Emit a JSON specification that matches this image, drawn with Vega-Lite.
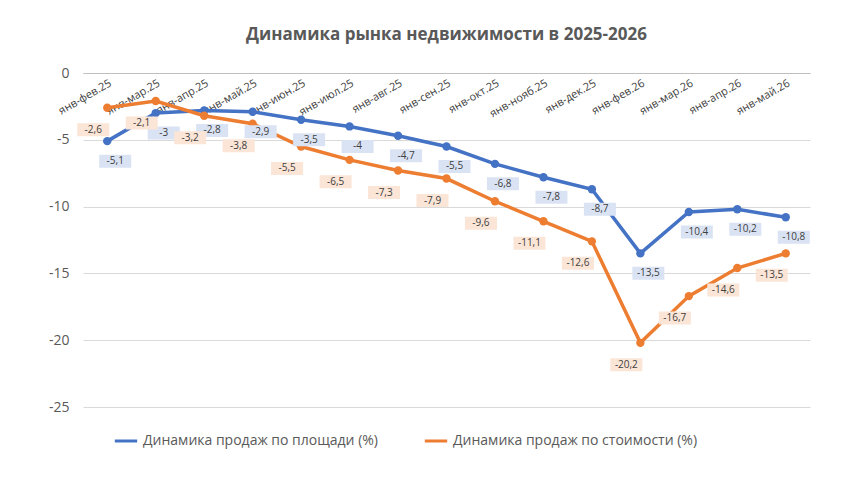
{
"$schema":"https://vega.github.io/schema/vega-lite/v6.json",
"width":727,"height":334,"autosize":"none",
"padding":{"left":83,"top":73,"right":57,"bottom":91},
"background":"white",
"title":{"text":"Динамика рынка недвижимости в 2025-2026","fontSize":17,"font":"Open Sans","fontWeight":"bold","color":"#595959","offset":22,"anchor":"middle"},
"config":{"view":{"stroke":null},"font":"Open Sans","locale":{"number":{"decimal":",","thousands":" ","grouping":[3],"currency":["",""],"minus":"-"}}},
"data":{"values":[
{"m":"янв-фев.25","s":"Динамика продаж по площади (%)","v":-5.1},
{"m":"янв-мар.25","s":"Динамика продаж по площади (%)","v":-3},
{"m":"янв-апр.25","s":"Динамика продаж по площади (%)","v":-2.8},
{"m":"янв-май.25","s":"Динамика продаж по площади (%)","v":-2.9},
{"m":"янв-июн.25","s":"Динамика продаж по площади (%)","v":-3.5},
{"m":"янв-июл.25","s":"Динамика продаж по площади (%)","v":-4},
{"m":"янв-авг.25","s":"Динамика продаж по площади (%)","v":-4.7},
{"m":"янв-сен.25","s":"Динамика продаж по площади (%)","v":-5.5},
{"m":"янв-окт.25","s":"Динамика продаж по площади (%)","v":-6.8},
{"m":"янв-нояб.25","s":"Динамика продаж по площади (%)","v":-7.8},
{"m":"янв-дек.25","s":"Динамика продаж по площади (%)","v":-8.7},
{"m":"янв-фев.26","s":"Динамика продаж по площади (%)","v":-13.5},
{"m":"янв-мар.26","s":"Динамика продаж по площади (%)","v":-10.4},
{"m":"янв-апр.26","s":"Динамика продаж по площади (%)","v":-10.2},
{"m":"янв-май.26","s":"Динамика продаж по площади (%)","v":-10.8},
{"m":"янв-фев.25","s":"Динамика продаж по стоимости (%)","v":-2.6},
{"m":"янв-мар.25","s":"Динамика продаж по стоимости (%)","v":-2.1},
{"m":"янв-апр.25","s":"Динамика продаж по стоимости (%)","v":-3.2},
{"m":"янв-май.25","s":"Динамика продаж по стоимости (%)","v":-3.8},
{"m":"янв-июн.25","s":"Динамика продаж по стоимости (%)","v":-5.5},
{"m":"янв-июл.25","s":"Динамика продаж по стоимости (%)","v":-6.5},
{"m":"янв-авг.25","s":"Динамика продаж по стоимости (%)","v":-7.3},
{"m":"янв-сен.25","s":"Динамика продаж по стоимости (%)","v":-7.9},
{"m":"янв-окт.25","s":"Динамика продаж по стоимости (%)","v":-9.6},
{"m":"янв-нояб.25","s":"Динамика продаж по стоимости (%)","v":-11.1},
{"m":"янв-дек.25","s":"Динамика продаж по стоимости (%)","v":-12.6},
{"m":"янв-фев.26","s":"Динамика продаж по стоимости (%)","v":-20.2},
{"m":"янв-мар.26","s":"Динамика продаж по стоимости (%)","v":-16.7},
{"m":"янв-апр.26","s":"Динамика продаж по стоимости (%)","v":-14.6},
{"m":"янв-май.26","s":"Динамика продаж по стоимости (%)","v":-13.5}
]},
"encoding":{
"x":{"field":"m","type":"ordinal","sort":null,"scale":{"paddingOuter":0.5,"paddingInner":0},
"axis":{"title":null,"offset":-334,"labelAngle":-30,"labelAlign":"right","labelBaseline":"top","labelFontSize":11,"labelColor":"#404040","domainColor":"#bfbfbf","ticks":false,"grid":false,"labelPadding":4}},
"y":{"field":"v","type":"quantitative","scale":{"domain":[-25,0],"nice":false},
"axis":{"title":null,"values":[0,-5,-10,-15,-20,-25],"labelFontSize":14,"labelColor":"#595959","gridColor":"#d9d9d9","domain":false,"ticks":false,"labelPadding":14}},
"color":{"field":"s","type":"nominal","scale":{"range":["#4472C4","#ED7D31"]},
"legend":{"title":null,"orient":"none","legendX":30,"legendY":355,"direction":"horizontal","labelFontSize":14,"labelColor":"#595959","symbolType":"stroke","symbolStrokeWidth":3,"symbolSize":500,"columnPadding":40,"labelLimit":400}}
},
"layer":[
{"mark":{"type":"line","strokeWidth":3.5}},
{"mark":{"type":"point","filled":true,"size":70,"opacity":1}},
{"transform":[{"filter":"datum.s=='Динамика продаж по площади (%)'"}],
 "mark":{"type":"point","shape":"M-1.6,-0.65H1.6V0.65H-1.6Z","size":400,"filled":true,"opacity":1,"yOffset":20,"xOffset":8},"encoding":{"color":{"value":"#dae3f3"}}},
{"transform":[{"filter":"datum.s=='Динамика продаж по площади (%)'"}],
 "mark":{"type":"text","fontSize":10,"yOffset":20,"xOffset":8},"encoding":{"text":{"field":"v","type":"quantitative","format":".1~f"},"color":{"value":"#404040"}}},
{"transform":[{"filter":"datum.s=='Динамика продаж по стоимости (%)'"}],
 "mark":{"type":"point","shape":"M-1.6,-0.65H1.6V0.65H-1.6Z","size":400,"filled":true,"opacity":1,"yOffset":22,"xOffset":-14},"encoding":{"color":{"value":"#fbe5d6"}}},
{"transform":[{"filter":"datum.s=='Динамика продаж по стоимости (%)'"}],
 "mark":{"type":"text","fontSize":10,"yOffset":22,"xOffset":-14},"encoding":{"text":{"field":"v","type":"quantitative","format":".1~f"},"color":{"value":"#404040"}}}
]
}
